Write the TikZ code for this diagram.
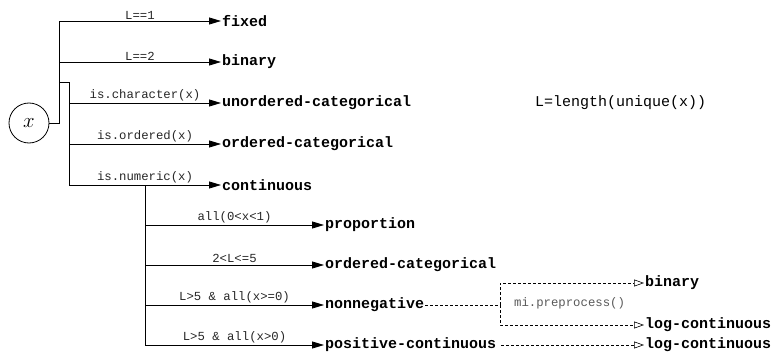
\documentclass[tikz,border=0pt]{standalone}
\usepackage{fontspec}
\setmonofont{Liberation Mono}
\usetikzlibrary{arrows.meta, calc, positioning}

\begin{document}
\begin{tikzpicture}[x=1pt, y=-1pt,
    kind/.style={anchor=west, inner sep=1pt, font=\fontsize{15}{17}\selectfont\ttfamily\bfseries},
    cond/.style={midway, above, inner sep=1.5pt, font=\fontsize{12.3}{14}\selectfont\ttfamily, text=black!85},
    tree/.style={line width=0.8pt},
    branch/.style={tree, -{Triangle[length=12pt,width=7pt]}},
    maybe/.style={dash pattern=on 3pt off 2pt, line width=0.6pt, -{Triangle[open,length=10pt,width=7pt]}}]

    \useasboundingbox (0,0) rectangle (777,353);

    % root
    \node[circle, draw, tree, minimum size=40pt, inner sep=0pt, font=\fontsize{22}{24}\selectfont] (x) at (29,123) {$x$};
    \coordinate (trunk) at (59,123);
    \coordinate (fork) at (59,82);
    \coordinate (stem) at (69,82);

    % first level
    \node[kind] (fixed) at (221,21) {fixed};
    \node[kind] (binary) at (221,62) {binary};
    \node[kind] (unord) at (221,103) {unordered-categorical};
    \node[kind] (ord) at (221,144) {ordered-categorical};
    \node[kind] (cont) at (221,185) {continuous};

    \node[anchor=west, inner sep=1pt, font=\fontsize{15}{17}\selectfont\ttfamily] (note) at (534,103) {L=length(unique(x))};

    \draw[tree] (x.east) -- (trunk) -- (trunk |- fixed);
    \draw[branch] (trunk |- fixed) -- (fixed.west) node[cond] {L==1};
    \draw[branch] (trunk |- binary) -- (binary.west) node[cond] {L==2};

    \draw[tree] (fork) -- (stem) -- (stem |- cont);
    \draw[branch] (stem |- unord) -- (unord.west) node[cond] {is.character(x)};
    \draw[branch] (stem |- ord) -- (ord.west) node[cond] {is.ordered(x)};
    \draw[branch] (stem |- cont) -- (cont.west) node[cond] {is.numeric(x)};

    % numeric
    \coordinate (sub) at (145,185);
    \node[kind] (prop) at (324,225) {proportion};
    \node[kind] (ordcat) at (324,265) {ordered-categorical};
    \node[kind] (nonneg) at (324,305) {nonnegative};
    \node[kind] (poscont) at (324,345) {positive-continuous};

    \draw[tree] (sub) -- (sub |- poscont);
    \draw[branch] (sub |- prop) -- (prop.west) node[cond] {all(0<x<1)};
    \draw[branch] (sub |- ordcat) -- (ordcat.west) node[cond] {2<L<=5};
    \draw[branch] (sub |- nonneg) -- (nonneg.west) node[cond] {L>5 \& all(x>=0)};
    \draw[branch] (sub |- poscont) -- (poscont.west) node[cond] {L>5 \& all(x>0)};

    % preprocessing
    \coordinate (split) at (500,305);
    \node[kind] (bin2) at (644,283) {binary};
    \node[kind] (logc1) at (644,325) {log-continuous};
    \node[kind] (logc2) at (644,345) {log-continuous};
    \node[anchor=west, inner sep=1pt, font=\fontsize{12.3}{14}\selectfont\ttfamily, text=black!65] (mi) at (513,303) {mi.preprocess()};

    \draw[dash pattern=on 3pt off 2pt, line width=0.6pt] (nonneg.east) -- (split);
    \draw[maybe] (split) |- (bin2.west);
    \draw[maybe] (split) |- (logc1.west);
    \draw[maybe, shorten <=4pt] (poscont.east) -- (logc2.west);

\end{tikzpicture}
\end{document}
